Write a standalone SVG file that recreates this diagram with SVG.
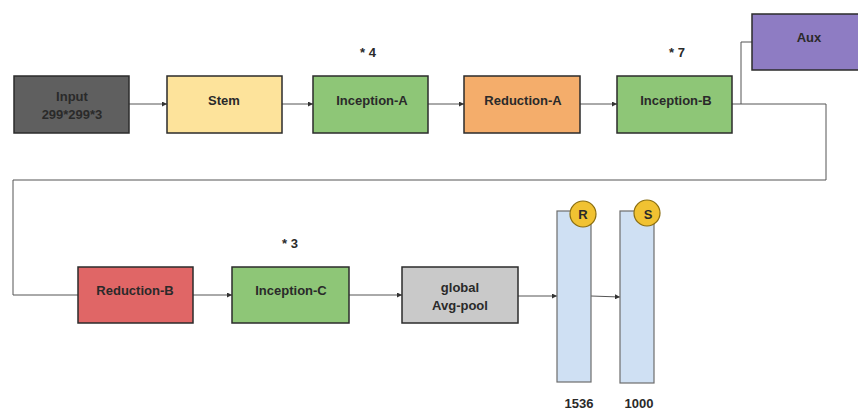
<svg xmlns="http://www.w3.org/2000/svg" width="858" height="410" viewBox="0 0 858 410">
<style>
.box{stroke:#2b2b2b;stroke-width:1.5}
.t{font-family:"Liberation Sans",Arial,sans-serif;font-weight:bold;font-size:13px;fill:#2a2a2a;text-anchor:middle;dominant-baseline:central}
.c{fill:none;stroke:#555;stroke-width:1}
.bar{fill:#cfe0f3;stroke:#6d6d6d;stroke-width:1.2}
.circ{fill:#f1c232;stroke:#8a6d10;stroke-width:1.2}
</style>
<defs>
<marker id="ah" viewBox="0 0 6 6" refX="6" refY="3" markerWidth="5" markerHeight="5" orient="auto" markerUnits="userSpaceOnUse">
<path d="M0,0 L6,3 L0,6 z" fill="#333"/>
</marker>
</defs>
<rect width="858" height="410" fill="#fff"/>
<g id="connectors">
<line class="c" x1="129" y1="104" x2="167" y2="104" marker-end="url(#ah)"/>
<line class="c" x1="282" y1="104" x2="313" y2="104" marker-end="url(#ah)"/>
<line class="c" x1="428" y1="104" x2="464" y2="104" marker-end="url(#ah)"/>
<line class="c" x1="580" y1="104" x2="617" y2="104" marker-end="url(#ah)"/>
<polyline class="c" points="741,104 741,42 752,42"/>
<polyline class="c" points="732,104 826,104 826,180 13,180 13,295 78,295"/>
<line class="c" x1="193" y1="295" x2="232" y2="295" marker-end="url(#ah)"/>
<line class="c" x1="349" y1="295" x2="402" y2="295" marker-end="url(#ah)"/>
<line class="c" x1="518" y1="296" x2="557" y2="296" marker-end="url(#ah)"/>
<line class="c" x1="591" y1="296" x2="620" y2="297" marker-end="url(#ah)"/>
</g>
<g id="input">
<rect class="box" x="14" y="76" width="115" height="57" fill="#5f5f5f"/>
<text class="t" x="72" y="96" font-size="14" fill="#1e1e1e">Input</text>
<text class="t" x="72" y="114" font-size="14" fill="#1e1e1e">299*299*3</text>
</g>
<g id="stem">
<rect class="box" x="167" y="76" width="115" height="57" fill="#fde39b"/>
<text class="t" x="224" y="100">Stem</text>
</g>
<g id="inception-a">
<rect class="box" x="313" y="76" width="115" height="57" fill="#8ec677"/>
<text class="t" x="372" y="100">Inception-A</text>
<text class="t" x="368" y="52" font-size="14">* 4</text>
</g>
<g id="reduction-a">
<rect class="box" x="464" y="76" width="116" height="57" fill="#f4ad6b"/>
<text class="t" x="523" y="100">Reduction-A</text>
</g>
<g id="inception-b">
<rect class="box" x="617" y="76" width="115" height="57" fill="#8ec677"/>
<text class="t" x="676" y="100">Inception-B</text>
<text class="t" x="677" y="52" font-size="14">* 7</text>
</g>
<g id="aux">
<rect class="box" x="752" y="14" width="110" height="56" fill="#8e7cc3"/>
<text class="t" x="809" y="37" fill="#1e1a4a">Aux</text>
</g>
<g id="reduction-b">
<rect class="box" x="78" y="267" width="115" height="56" fill="#e06666"/>
<text class="t" x="135" y="290" fill="#3a1212">Reduction-B</text>
</g>
<g id="inception-c">
<rect class="box" x="232" y="267" width="117" height="56" fill="#8ec677"/>
<text class="t" x="291" y="290">Inception-C</text>
<text class="t" x="290" y="243" font-size="14">* 3</text>
</g>
<g id="avg-pool">
<rect class="box" x="402" y="267" width="116" height="56" fill="#c9c9c9"/>
<text class="t" x="460" y="287">global</text>
<text class="t" x="460" y="305">Avg-pool</text>
</g>
<g id="fc-r">
<rect class="bar" x="557" y="211" width="34" height="171"/>
<circle class="circ" cx="583" cy="214" r="13"/>
<text class="t" x="583" y="214" font-size="11">R</text>
<text class="t" x="579" y="403">1536</text>
</g>
<g id="fc-s">
<rect class="bar" x="620" y="211" width="34" height="172"/>
<circle class="circ" cx="647" cy="213" r="13"/>
<text class="t" x="648" y="214" font-size="11">S</text>
<text class="t" x="639" y="403">1000</text>
</g>
</svg>
